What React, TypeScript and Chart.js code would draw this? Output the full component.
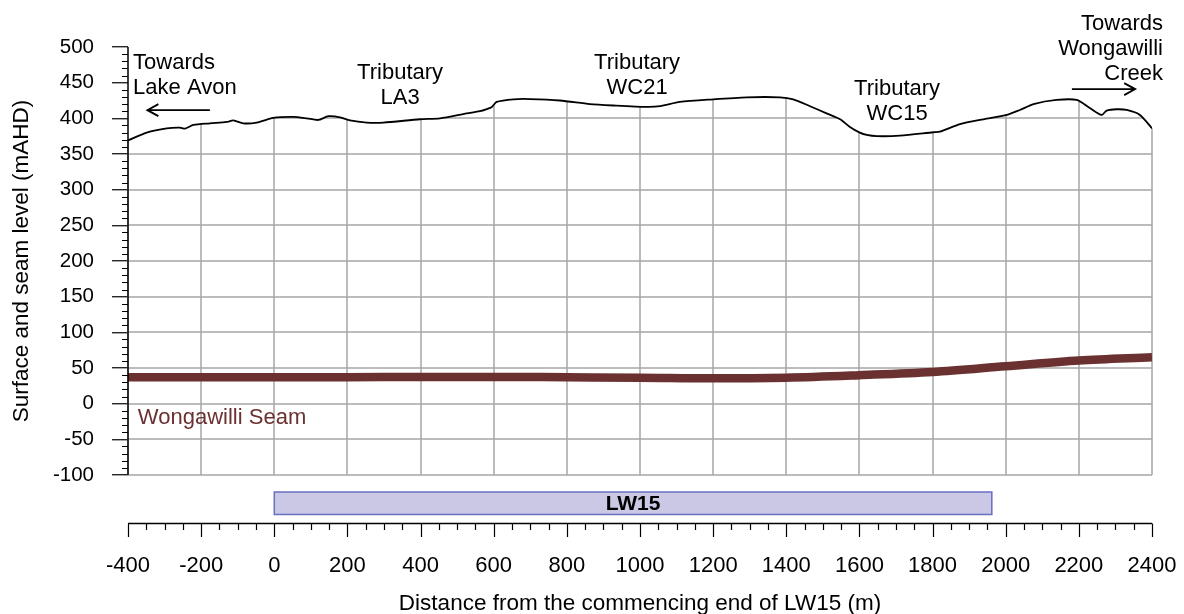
import React, { useEffect, useRef } from "react";
import { Chart, registerables } from "chart.js";

Chart.register(...registerables);

const FONT = "'Liberation Sans', Arial, sans-serif";

// Surface profile (distance m, level mAHD)
const surfaceX = [
  -400, -349, -294, -258, -244, -221, -176, -130, -112, -85, -48, -3, 52, 89, 120, 148, 180, 207, 253, 298,
  398, 453, 526, 562, 581, 595, 608, 654, 699, 781, 863, 927, 1018, 1055, 1109, 1200, 1292, 1383, 1419,
  1465, 1510, 1547, 1574, 1601, 1620, 1647, 1711, 1802, 1820, 1875, 1939, 2003, 2039, 2076, 2139, 2194,
  2231, 2262, 2276, 2303, 2331, 2367, 2400,
];
const surfaceY = [
  369, 380, 386, 387, 385.5, 390.7, 393, 395, 397, 393, 394, 400.5, 402, 400, 397.7, 403, 401.5, 397, 394, 394,
  398.7, 400, 407, 410, 413, 416, 423, 426.7, 427, 425, 420, 418, 416, 417, 423, 426.7, 429.5, 429.5, 426.7,
  417, 407, 398.7, 388, 380, 376.7, 375, 375.7, 380.5, 381.3, 392, 398.7, 404.7, 411.7, 420, 425.8, 425.8,
  414, 404.7, 410.8, 412.7, 411.7, 404.7, 386,
];

// Wongawilli Seam level
const seamX = [-400, -200, 0, 200, 400, 600, 800, 1000, 1200, 1400, 1600, 1800, 2000, 2200, 2400];
const seamY = [37, 37, 37, 37, 37.5, 37.5, 37, 36.5, 35.5, 36.5, 40, 44.5, 52.5, 60.5, 65];

// Axis ticks
const xTickValues = [-400, -200, 0, 200, 400, 600, 800, 1000, 1200, 1400, 1600, 1800, 2000, 2200, 2400];
const yTickValues = [-100, -50, 0, 50, 100, 150, 200, 250, 300, 350, 400, 450, 500];
const xMinorStep = 50;
const yMinorStep = 10;

// Longwall panel
const panelName = "LW15";
const panelStart = 0;
const panelEnd = 1962;

// Text annotations (x, y of first line in data units)
const noteTexts = [
  ["Towards", "Lake Avon"],
  ["Tributary", "LA3"],
  ["Tributary", "WC21"],
  ["Tributary", "WC15"],
  ["Towards", "Wongawilli", "Creek"],
];
const noteX = [-386, 344, 992, 1703, 2430];
const noteY = [477, 463, 478, 441, 532];
const noteAlign = ["left", "center", "center", "center", "right"];

// Arrows (from -> to, at level)
const arrowFromX = [-176, 2181];
const arrowToX = [-347, 2354];
const arrowY = [411.5, 441];

const seamLabel = "Wongawilli Seam";
const seamLabelX = -373;
const seamLabelY = -20;

const xTitle = "Distance from the commencing end of LW15 (m)";
const yTitle = "Surface and seam level (mAHD)";

const SEAM_COLOR = "#6b3131";
const GRID_COLOR = "#a6a6a6";

// Grid drawn only beneath the ground surface
const gridPlugin = {
  id: "surfaceGrid",
  beforeDatasetsDraw(chart: any) {
    const { ctx, chartArea } = chart;
    const xs = chart.scales.x;
    const ys = chart.scales.y;
    const pts = chart.getDatasetMeta(0).data;
    if (!pts || !pts.length) return;
    ctx.save();
    ctx.beginPath();
    ctx.moveTo(chartArea.left - 2, chartArea.bottom + 2);
    ctx.lineTo(chartArea.left - 2, pts[0].y);
    pts.forEach((p: any) => ctx.lineTo(p.x, p.y));
    ctx.lineTo(chartArea.right + 2, pts[pts.length - 1].y);
    ctx.lineTo(chartArea.right + 2, chartArea.bottom + 2);
    ctx.closePath();
    ctx.clip();
    ctx.strokeStyle = GRID_COLOR;
    ctx.lineWidth = 1.5;
    yTickValues.forEach((v) => {
      const py = Math.round(ys.getPixelForValue(v));
      ctx.beginPath();
      ctx.moveTo(chartArea.left, py);
      ctx.lineTo(chartArea.right, py);
      ctx.stroke();
    });
    xTickValues.forEach((v) => {
      const px = Math.round(xs.getPixelForValue(v));
      ctx.beginPath();
      ctx.moveTo(px, chartArea.top);
      ctx.lineTo(px, chartArea.bottom);
      ctx.stroke();
    });
    ctx.restore();
  },
};

const overlayPlugin = {
  id: "overlay",
  afterDraw(chart: any) {
    const { ctx, chartArea } = chart;
    const xs = chart.scales.x;
    const ys = chart.scales.y;
    ctx.save();

    // Left axis line
    ctx.strokeStyle = "#000";
    ctx.lineWidth = 1.5;
    ctx.beginPath();
    ctx.moveTo(chartArea.left, chartArea.top);
    ctx.lineTo(chartArea.left, chartArea.bottom);
    ctx.stroke();

    // Minor y ticks
    ctx.lineWidth = 1;
    for (let v = yTickValues[0]; v <= yTickValues[yTickValues.length - 1]; v += yMinorStep) {
      if (v % 50 === 0) continue;
      const py = Math.round(ys.getPixelForValue(v)) + 0.5;
      ctx.beginPath();
      ctx.moveTo(chartArea.left - 6, py);
      ctx.lineTo(chartArea.left, py);
      ctx.stroke();
    }

    // Panel bar
    const px0 = xs.getPixelForValue(panelStart);
    const px1 = xs.getPixelForValue(panelEnd);
    const by0 = chartArea.bottom + 17;
    const by1 = chartArea.bottom + 39.5;
    ctx.fillStyle = "#cac8e4";
    ctx.fillRect(px0, by0, px1 - px0, by1 - by0);
    ctx.strokeStyle = "#6a6fc0";
    ctx.lineWidth = 1.5;
    ctx.strokeRect(px0, by0, px1 - px0, by1 - by0);
    ctx.fillStyle = "#000";
    ctx.font = `bold 21px ${FONT}`;
    ctx.textAlign = "center";
    ctx.textBaseline = "middle";
    ctx.fillText(panelName, (px0 + px1) / 2, (by0 + by1) / 2 + 1);

    // Bottom x axis
    const ay = chartArea.bottom + 48.5;
    ctx.strokeStyle = "#000";
    ctx.lineWidth = 1.5;
    ctx.beginPath();
    ctx.moveTo(chartArea.left, ay);
    ctx.lineTo(chartArea.right, ay);
    ctx.stroke();
    ctx.lineWidth = 1.2;
    const xmin = xTickValues[0];
    const xmax = xTickValues[xTickValues.length - 1];
    for (let v = xmin; v <= xmax; v += xMinorStep) {
      const px = Math.round(xs.getPixelForValue(v)) + 0.5;
      const major = xTickValues.includes(v);
      ctx.beginPath();
      ctx.moveTo(px, ay);
      ctx.lineTo(px, ay + (major ? 13.5 : 6.5));
      ctx.stroke();
    }
    ctx.font = `22px ${FONT}`;
    ctx.textAlign = "center";
    ctx.textBaseline = "middle";
    ctx.fillStyle = "#000";
    xTickValues.forEach((v) => {
      ctx.fillText(String(v), xs.getPixelForValue(v), ay + 42.5);
    });
    ctx.font = `22.5px ${FONT}`;
    ctx.fillText(xTitle, (chartArea.left + chartArea.right) / 2, ay + 80);

    // Annotations
    ctx.font = `22px ${FONT}`;
    ctx.fillStyle = "#000";
    noteTexts.forEach((lines, i) => {
      ctx.textAlign = noteAlign[i] as CanvasTextAlign;
      const x0 = xs.getPixelForValue(noteX[i]);
      const y0 = ys.getPixelForValue(noteY[i]);
      lines.forEach((t, j) => ctx.fillText(t, x0, y0 + j * 25));
    });

    // Arrows
    ctx.strokeStyle = "#000";
    ctx.lineWidth = 1.8;
    arrowFromX.forEach((fx, i) => {
      const x0 = xs.getPixelForValue(fx);
      const x1 = xs.getPixelForValue(arrowToX[i]);
      const py = ys.getPixelForValue(arrowY[i]);
      const dir = x1 > x0 ? 1 : -1;
      ctx.beginPath();
      ctx.moveTo(x0, py);
      ctx.lineTo(x1, py);
      ctx.moveTo(x1 - dir * 11, py - 6);
      ctx.lineTo(x1, py);
      ctx.lineTo(x1 - dir * 11, py + 6);
      ctx.stroke();
    });

    // Seam label
    ctx.fillStyle = SEAM_COLOR;
    ctx.textAlign = "left";
    ctx.font = `22px ${FONT}`;
    ctx.fillText(seamLabel, xs.getPixelForValue(seamLabelX), ys.getPixelForValue(seamLabelY));

    ctx.restore();
  },
};

export default function App() {
  const canvasRef = useRef<HTMLCanvasElement | null>(null);

  useEffect(() => {
    document.body.style.overflow = "hidden";
    if (!canvasRef.current) return;
    const chart = new Chart(canvasRef.current, {
      type: "line",
      data: {
        datasets: [
          {
            label: "Surface",
            data: surfaceX.map((x, i) => ({ x, y: surfaceY[i] })),
            borderColor: "#000",
            borderWidth: 1.8,
            fill: false,
            pointRadius: 0,
            tension: 0.25,
          },
          {
            label: "Wongawilli Seam",
            data: seamX.map((x, i) => ({ x, y: seamY[i] })),
            borderColor: SEAM_COLOR,
            borderWidth: 8.5,
            fill: false,
            pointRadius: 0,
            cubicInterpolationMode: "monotone",
          },
        ],
      },
      options: {
        animation: false,
        responsive: true,
        maintainAspectRatio: false,
        layout: { padding: { top: 39, left: 0, right: 24, bottom: 139 } },
        plugins: { legend: { display: false }, tooltip: { enabled: false } },
        scales: {
          x: {
            type: "linear",
            min: xTickValues[0],
            max: xTickValues[xTickValues.length - 1],
            afterBuildTicks: (s: any) => {
              s.ticks = xTickValues.map((v) => ({ value: v }));
            },
            ticks: { display: false },
            grid: { display: false, drawTicks: false },
            border: { display: false },
            afterFit: (s: any) => {
              s.height = 0;
            },
          },
          y: {
            type: "linear",
            min: yTickValues[0],
            max: yTickValues[yTickValues.length - 1],
            afterBuildTicks: (s: any) => {
              s.ticks = yTickValues.map((v) => ({ value: v }));
            },
            ticks: {
              color: "#000",
              font: { size: 20.5, family: FONT },
              padding: 18,
            },
            grid: {
              drawOnChartArea: false,
              color: GRID_COLOR,
              lineWidth: 1.5,
              tickColor: "#000",
              tickLength: 16,
              tickWidth: 1.2,
            },
            border: { display: false },
            title: {
              display: true,
              text: yTitle,
              color: "#000",
              font: { size: 22.5, family: FONT },
              padding: { top: 0, bottom: 0 },
            },
            afterFit: (s: any) => {
              s.width = 120;
            },
          },
        },
      },
      plugins: [gridPlugin, overlayPlugin],
    } as any);
    return () => chart.destroy();
  }, []);

  return (
    <div style={{ width: 1168, height: 606, position: "relative" }}>
      <canvas ref={canvasRef} />
    </div>
  );
}
